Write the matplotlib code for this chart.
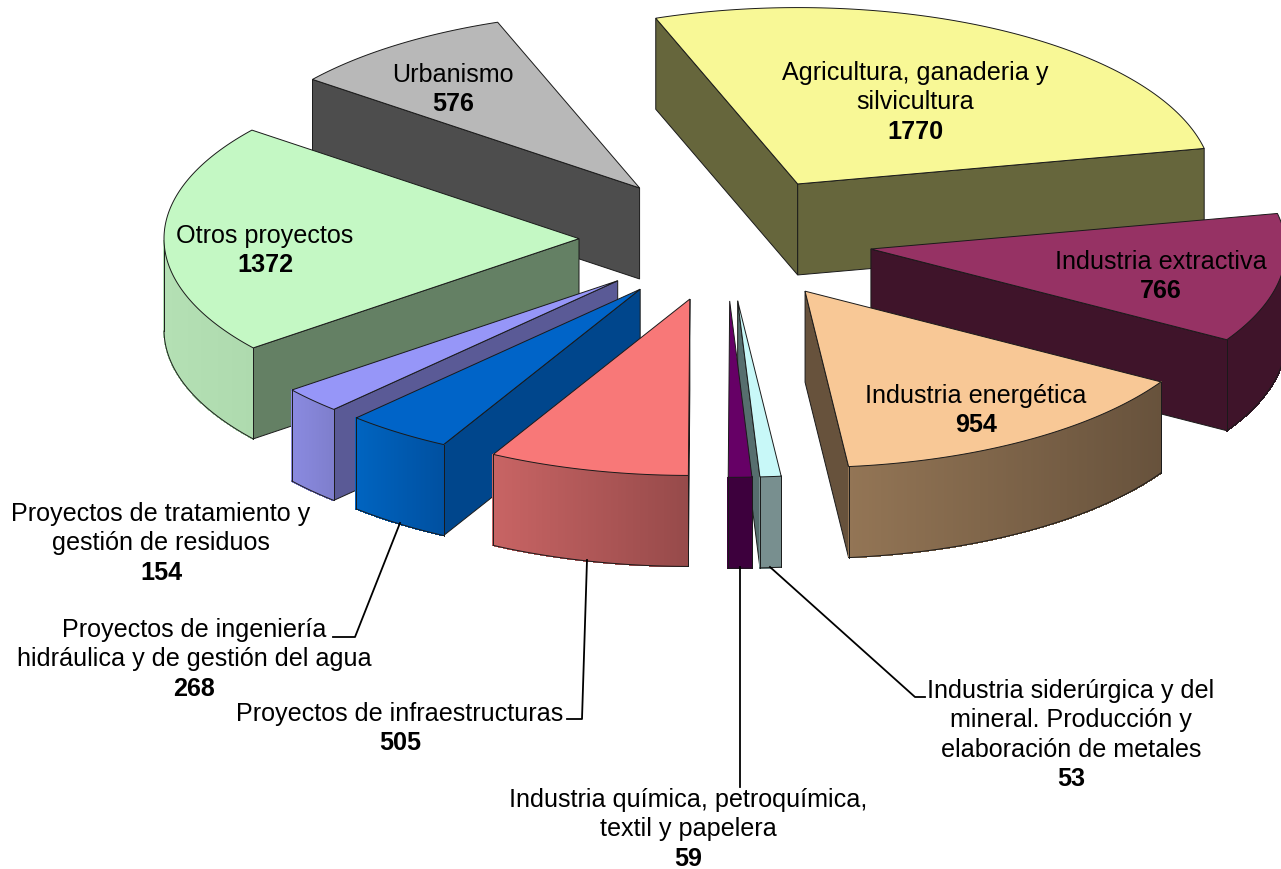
import numpy as np
import matplotlib
matplotlib.use("Agg")
import matplotlib.pyplot as plt
from matplotlib.patches import Polygon
from matplotlib.colors import to_rgb

plt.rcParams['font.family'] = ['Liberation Sans', 'DejaVu Sans']

# --- data (clockwise from the top) ---
names = ["Agricultura, ganaderia y\nsilvicultura", "Industria extractiva", "Industria energética",
         "Industria siderúrgica y del\nmineral. Producción y\nelaboración de metales",
         "Industria química, petroquímica,\ntextil y papelera", "Proyectos de infraestructuras",
         "Proyectos de ingeniería\nhidráulica y de gestión del agua",
         "Proyectos de tratamiento y\ngestión de residuos", "Otros proyectos", "Urbanismo"]
values = [1770, 766, 954, 53, 59, 505, 268, 154, 1372, 576]

# --- styles ---
top_colors = ["#F8F896", "#963264", "#F8C896", "#C8F8F8", "#660066", "#F87878", "#0064C8", "#9696F8", "#C4F8C4", "#B8B8B8"]
face_colors = ["#66663C", "#3F142A", "#67523C", "#566E6E", "#3D003D", "#964A4A", "#00468C", "#5A5A96", "#648064", "#4D4D4D"]
rim_left = ["#66663C", "#3F142A", "#937555", "#788F8F", "#3D003D", "#C86464", "#0064C0", "#8A8AE0", "#B4E0B4", "#4D4D4D"]
rim_right = ["#66663C", "#3F142A", "#67523C", "#788F8F", "#3D003D", "#964A4A", "#0050A0", "#7E7ECC", "#AEDAAE", "#4D4D4D"]
draw_order = [9, 0, 8, 1, 2, 7, 6, 5, 3, 4]
label_x = [915, 1161, 976, 1071, 688, 400, 194, 161, 265, 453]
label_y = [73, 262, 396, 691, 800, 714, 630, 514, 236, 75]
leaders = {3: [(770, 567), (915, 697), (925, 697)], 4: [(740, 567), (740, 787)],
           5: [(587, 560), (582, 719), (567, 719)], 6: [(400, 523), (355, 637), (333, 637)]}

CX, CY = 726, 238.5
R, K, DEPTH, EXPLODE = 415, 0.425, 91, 147
START = 110.0
LINE_PITCH = 29.4
FS = 18.1
EDGE = "#1a1a1a"

fig = plt.figure(figsize=(12.81, 8.69), dpi=100)
ax = fig.add_axes([0, 0, 1, 1])
ax.set_xlim(0, 1281)
ax.set_ylim(869, 0)
ax.axis("off")

sweeps = np.array(values) / sum(values) * 360
starts = START - np.concatenate([[0], np.cumsum(sweeps)[:-1]])


def pt(ox, oy, deg):
    a = np.radians(deg)
    return ox + R * np.cos(a), oy - R * K * np.sin(a)


def draw_slice(i, z):
    s, e = starts[i], starts[i] - sweeps[i]
    mid = np.radians((s + e) / 2)
    ox, oy = CX + EXPLODE * np.cos(mid), CY - EXPLODE * K * np.sin(mid)
    angs = np.linspace(s, e, 120)
    xs, ys = pt(ox, oy, angs)
    # cut faces facing the viewer
    for ang, normal in ((s, s + 90), (e, e - 90)):
        if np.sin(np.radians(normal)) < -1e-6:
            x, y = pt(ox, oy, ang)
            ax.add_patch(Polygon([(ox, oy), (x, y), (x, y + DEPTH), (ox, oy + DEPTH)], closed=True,
                                 fc=face_colors[i], ec=EDGE, lw=0.7, zorder=z))
    # outer rim, lit with a left-to-right gradient
    front = np.sin(np.radians(angs)) < 0
    if front.sum() > 1:
        fx, fy = xs[front], ys[front]
        lo, hi = fx.min(), fx.max()
        cl, cr = np.array(to_rgb(rim_left[i])), np.array(to_rgb(rim_right[i]))
        for j in range(len(fx) - 1):
            t = (0.5 * (fx[j] + fx[j + 1]) - lo) / max(hi - lo, 1)
            c = tuple(cl + (cr - cl) * t)
            ax.add_patch(Polygon([(fx[j], fy[j]), (fx[j + 1], fy[j + 1]),
                                  (fx[j + 1], fy[j + 1] + DEPTH), (fx[j], fy[j] + DEPTH)],
                                 closed=True, fc=c, ec=c, lw=0.6, antialiased=False, zorder=z))
        ax.plot(fx, fy + DEPTH, color=EDGE, lw=0.7, zorder=z)
        for x0, y0 in ((fx[0], fy[0]), (fx[-1], fy[-1])):
            ax.plot([x0, x0], [y0, y0 + DEPTH], color=EDGE, lw=0.7, zorder=z)
    # top
    ax.add_patch(Polygon(np.column_stack([np.r_[ox, xs], np.r_[oy, ys]]), closed=True,
                         fc=top_colors[i], ec=EDGE, lw=0.7, zorder=z))


for z, i in enumerate(draw_order):
    draw_slice(i, z + 1)

for pts in leaders.values():
    px, py = zip(*pts)
    ax.plot(px, py, color="black", lw=1.3, zorder=20)

for i, name in enumerate(names):
    lines = name.split("\n")
    for j, line in enumerate(lines):
        ax.text(label_x[i], label_y[i] + j * LINE_PITCH, line, ha="center", va="center",
                fontsize=FS, color="black", zorder=30)
    ax.text(label_x[i], label_y[i] + len(lines) * LINE_PITCH, str(values[i]), ha="center", va="center",
            fontsize=FS, fontweight="bold", color="black", zorder=30)

fig.savefig("out.png", dpi=100, facecolor="white")
